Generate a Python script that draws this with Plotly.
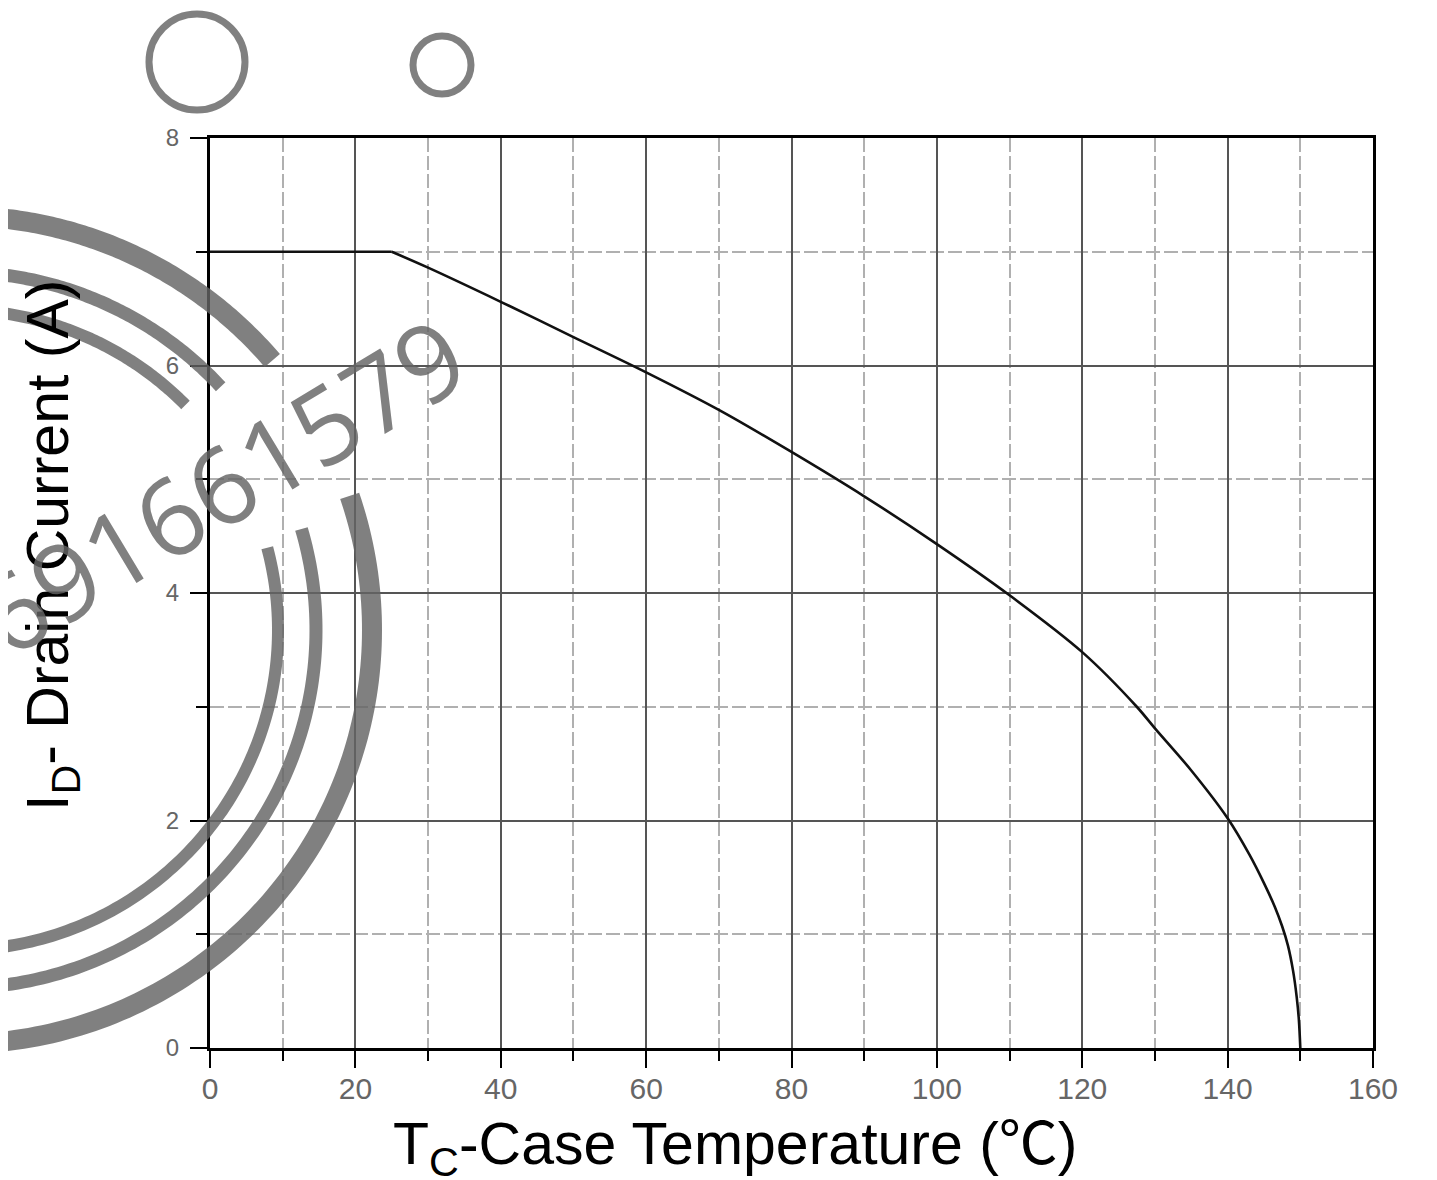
import numpy as np
import plotly.graph_objects as go

# ---- data ----
case_temp_c = [0, 25, 30, 40, 50, 60, 70, 80, 90, 100, 110, 120, 127.5, 130, 135, 140, 143, 145, 146.5, 147.5, 148.3, 149.0, 149.5, 149.8, 150]
drain_current_a = [7.0, 7.0, 6.86, 6.56, 6.25, 5.94, 5.61, 5.24, 4.85, 4.43, 3.98, 3.48, 3.0, 2.81, 2.44, 2.02, 1.70, 1.45, 1.24, 1.07, 0.90, 0.68, 0.45, 0.25, 0.0]
x_tick_vals = [0, 20, 40, 60, 80, 100, 120, 140, 160]
y_tick_vals = [0, 2, 4, 6, 8]
watermark_text = "691661579"

OFF = 8  # page body margin in the browser
W, H = 1437 - OFF, 1180 - OFF
L, T = 210 - OFF, 138 - OFF
PW, PH = 1163, 910
R, B = W - L - PW, H - T - PH


def px_to_paper(px, py):
    """screen pixel (reference image) -> paper coordinates"""
    return (px - OFF - L) / PW, (T + PH - (py - OFF)) / PH


fig = go.Figure()
# flat (current-limited) part
fig.add_trace(go.Scatter(
    x=case_temp_c[:2], y=drain_current_a[:2], mode="lines",
    line=dict(color="#111111", width=2.6), showlegend=False, hoverinfo="skip"))
# derating curve
fig.add_trace(go.Scatter(
    x=case_temp_c[1:], y=drain_current_a[1:], mode="lines",
    line=dict(color="#111111", width=2.6, shape="spline", smoothing=0.9),
    showlegend=False, hoverinfo="skip"))

axis_common = dict(
    showline=True, linecolor="black", linewidth=3, mirror=True,
    ticks="outside", ticklen=17, tickwidth=2, tickcolor="black",
    showgrid=True, gridcolor="#555555", gridwidth=2,
    zeroline=False,
)

fig.update_xaxes(
    **axis_common, range=[0, 160], tickvals=x_tick_vals,
    ticklabelstandoff=-5,
    tickfont=dict(family="Liberation Sans, Arial, sans-serif", color="#666666", size=30),
    minor=dict(dtick=10, tick0=0, ticks="outside", ticklen=10, tickwidth=2, tickcolor="black",
               showgrid=True, gridcolor="#b0b0b0", gridwidth=1.6, griddash="14px,4px"),
)
fig.update_yaxes(
    **axis_common, range=[0, 8], tickvals=y_tick_vals,
    ticklabelstandoff=6,
    tickfont=dict(family="Liberation Sans, Arial, sans-serif", color="#666666", size=24),
    minor=dict(dtick=1, tick0=0, ticks="outside", ticklen=11, tickwidth=2, tickcolor="black",
               showgrid=True, gridcolor="#b0b0b0", gridwidth=1.6, griddash="14px,4px"),
)

# ---- axis titles ----
fig.add_annotation(
    text='T<sub>C</sub>-Case Temperature (<span style="font-family:Noto Sans CJK SC">℃</span>)',
    xref="paper", yref="paper",
    x=px_to_paper(735, 0)[0], y=px_to_paper(0, 1140)[1], showarrow=False,
    xanchor="center", yanchor="middle",
    font=dict(family="Liberation Sans, Arial, sans-serif", size=59, color="black"))
fig.add_annotation(
    text="I<sub>D</sub>- Drain Current (A)", xref="paper", yref="paper",
    x=px_to_paper(52, 0)[0], y=px_to_paper(0, 546)[1], showarrow=False, textangle=-90,
    xanchor="center", yanchor="middle",
    font=dict(family="Liberation Sans, Arial, sans-serif", size=59, color="black"))

# ---- watermark (gray stamp) ----
wm = "rgba(100,100,100,0.82)"
shapes = []
for (cx, cy, r) in [(197, 62, 48), (442, 65, 29)]:
    x0, y1 = px_to_paper(cx - r, cy - r)
    x1, y0 = px_to_paper(cx + r, cy + r)
    shapes.append(dict(type="circle", xref="paper", yref="paper", x0=x0, x1=x1, y0=y0, y1=y1,
                       line=dict(color=wm, width=7), layer="above"))

ccx, ccy = -42, 630
rings = [  # radius, width, upper arc end angle, right arc start angle
    (414, 20, 40.6, 18.9),
    (358, 13, 42.8, 16.4),
    (320, 12, 44.7, 14.9),
]


def arc_path(rad, a0, a1):
    ang = np.radians(np.linspace(a0, a1, 120))
    pts = [px_to_paper(ccx + rad * np.cos(a), ccy - rad * np.sin(a)) for a in ang]
    return "M " + " L ".join(f"{x:.5f},{y:.5f}" for x, y in pts)


for rad, wdt, up_end, right_start in rings:
    shapes.append(dict(type="path", xref="paper", yref="paper", path=arc_path(rad, up_end, 100),
                       line=dict(color=wm, width=wdt), layer="above"))
    shapes.append(dict(type="path", xref="paper", yref="paper", path=arc_path(rad, right_start, -100),
                       line=dict(color=wm, width=wdt), layer="above"))
fig.update_layout(shapes=shapes)

wx, wy = px_to_paper(220, 485)
fig.add_annotation(
    text=watermark_text, xref="paper", yref="paper", x=wx, y=wy, showarrow=False,
    textangle=-31, xanchor="center", yanchor="middle",
    font=dict(family="Open Sans, sans-serif", size=106, color=wm))

fig.update_layout(
    width=W, height=H, margin=dict(l=L, r=R, t=T, b=B, autoexpand=False),
    paper_bgcolor="white", plot_bgcolor="white", showlegend=False,
)

fig.write_html("out.html")
